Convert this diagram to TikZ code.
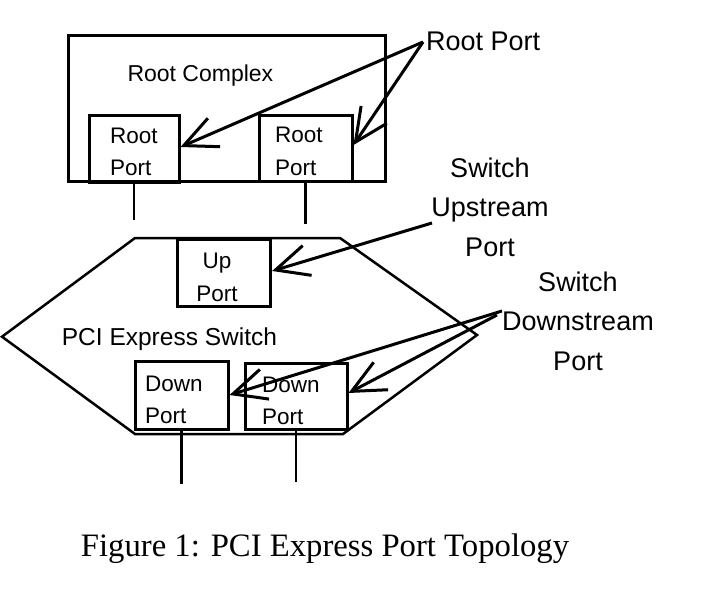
\documentclass[tikz,border=0pt]{standalone}
\usepackage{fontspec}
\setmainfont{Liberation Sans}
\newfontfamily\capfont{Liberation Serif}
\usetikzlibrary{arrows.meta}
\begin{document}
\begin{tikzpicture}[x=1pt,y=-1pt,
  boxline/.style={draw, line width=3pt, inner sep=0pt},
  hexline/.style={draw, line width=2.5pt, line join=miter},
  ptr/.style={line width=3pt, -{Straight Barb[length=33pt,width=31pt]}},
  wire/.style={line width=2.7pt},
  lbl/.style={inner sep=0pt, font=\fontsize{27}{39.5}\selectfont, align=center},
  ptxt/.style={inner sep=0pt, font=\fontsize{22.5}{32.4}\selectfont},
  ptxtl/.style={ptxt, align=left},
  ptxtc/.style={ptxt, align=center}]
\useasboundingbox (0,0) rectangle (711,596);

% Root complex
\node[boxline, minimum width=316.7pt, minimum height=146pt] (rc) at (226.65,108.7) {};
\node[inner sep=0pt, font=\fontsize{23}{28}\selectfont, anchor=base] (rctxt) at (200.4,81.7) {Root Complex};

% root ports
\node[boxline, minimum width=90pt, minimum height=66pt] (rp1) at (134,149) {};
\node[ptxtl, anchor=base west] (rp1t) at (110,175.7) {Root\\Port};
\node[boxline, minimum width=93pt, minimum height=65pt] (rp2) at (305.5,148.5) {};
\node[ptxtl, anchor=base west] (rp2t) at (275,175.2) {Root\\Port};

\coordinate (l1) at (134,220);
\coordinate (l2) at (305.5,224);
\draw[wire] (rp1.south) -- (l1);
\draw[wire] (rp2.south) -- (l2);

% switch hexagon
\coordinate (h1) at (135,238);
\coordinate (h2) at (340,238);
\coordinate (h3) at (477,335);
\coordinate (h4) at (343,434);
\coordinate (h5) at (135,434);
\coordinate (h6) at (2,336.7);
\draw[hexline] (h1) -- (h2) -- (h3) -- (h4) -- (h5) -- (h6) -- cycle;

\node[inner sep=0pt, font=\fontsize{24.5}{30}\selectfont, anchor=base west] (swt) at (61.7,345) {PCI Express Switch};

% up port
\node[boxline, minimum width=92.7pt, minimum height=66.7pt] (up) at (224.3,273.3) {};
\node[ptxtc, anchor=base] (upt) at (217,301) {Up\\Port};

% down ports
\node[boxline, minimum width=93pt, minimum height=68pt] (dp1) at (181.5,395) {};
\node[ptxtl, anchor=base west] (dp1t) at (145,423.5) {Down\\Port};
\node[boxline, minimum width=102pt, minimum height=66pt] (dp2) at (296,396) {};
\node[ptxtl, anchor=base west] (dp2t) at (262,424.5) {Down\\Port};

\coordinate (l3) at (181.5,484);
\coordinate (l4) at (296,482);
\draw[wire] (dp1.south) -- (l3);
\draw[wire] (dp2.south) -- (l4);

% labels
\node[lbl, anchor=base west] (rpl) at (426,50.7) {Root Port};
\node[lbl, anchor=base] (sul) at (490,256) {Switch\\Upstream\\Port};
\node[lbl, anchor=base] (sdl) at (578,370) {Switch\\Downstream\\Port};

\coordinate (rpa) at (423,42);
\coordinate (sua) at (432,223);
\coordinate (sda1) at (502,311);
\coordinate (sda2) at (497,315);

\draw[ptr] (rpa) -- ([yshift=2pt]rp1.east);
\draw[ptr] (rpa) -- ([yshift=3.5pt]rp2.east);
\draw[ptr] (sua) -- ([yshift=2.3pt]up.east);
\draw[ptr] (sda1) -- (dp1.east);
\draw[ptr] (sda2) -- ([yshift=3pt]dp2.east);

% caption
\node[inner sep=0pt, font=\capfont\fontsize{32.7}{38}\selectfont, anchor=base west] (cap) at (80.7,556.7) {Figure 1: PCI Express Port Topology};
\end{tikzpicture}
\end{document}
